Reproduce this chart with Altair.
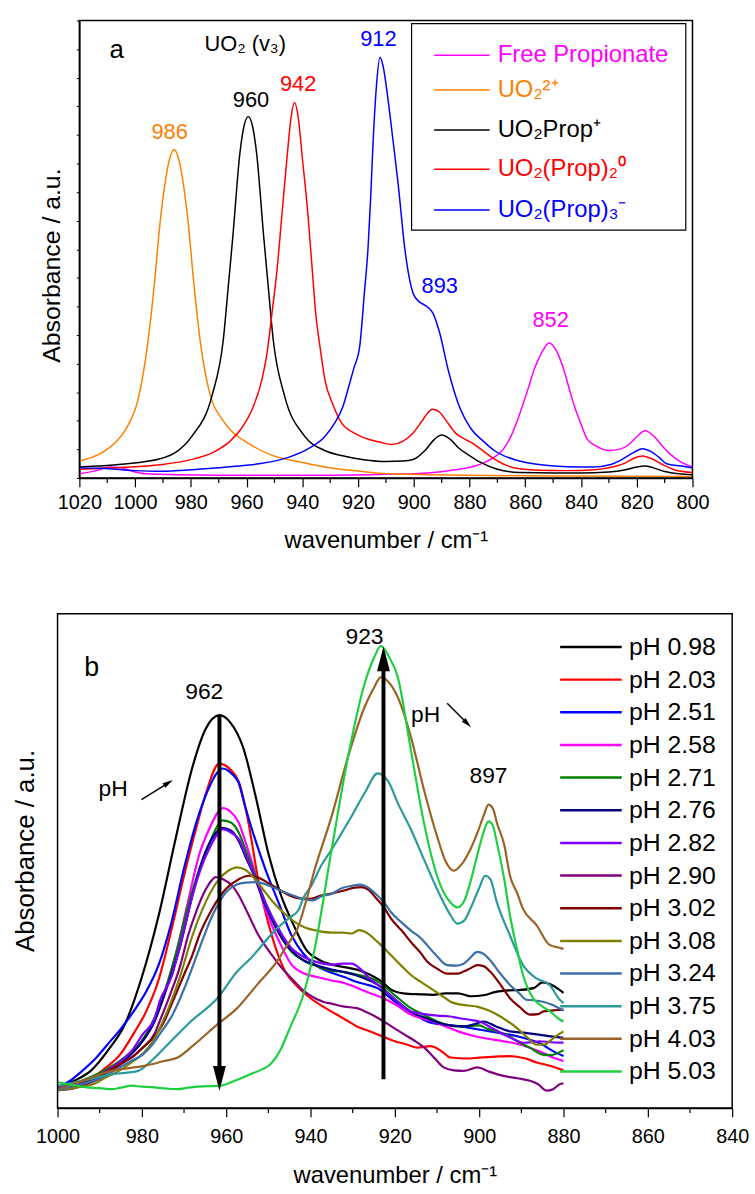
import altair as alt
import pandas as pd
import numpy as np

FONT = "Liberation Sans, Arial, sans-serif"

# ---------------- panel a : reference spectra ----------------
a_series = ["Free Propionate", "UO2 2+", "UO2Prop+", "UO2(Prop)2 0", "UO2(Prop)3 -"]
a_labels = ["Free Propionate", "UO₂²⁺", "UO₂Prop⁺", "UO₂(Prop)₂⁰", "UO₂(Prop)₃⁻"]
a_colors = ["#FF00FF", "#FF8000", "#000000", "#FF0000", "#0000FF"]

free_w = [1020, 1014, 1009, 1005, 1000, 996, 985, 970, 950, 930, 910, 895, 885, 878, 872, 868, 865, 862, 859, 856.8,
          854, 851.5, 849, 846.2, 844, 842, 840, 837.8, 834, 830, 826, 823, 820, 817, 814, 811, 808, 805, 800]
free_v = [0.009, 0.016, 0.024, 0.022, 0.013, 0.009, 0.007, 0.006, 0.006, 0.006, 0.008, 0.011, 0.018, 0.026, 0.042,
          0.062, 0.093, 0.140, 0.195, 0.237, 0.275, 0.295, 0.280, 0.237, 0.190, 0.150, 0.118, 0.085, 0.068, 0.060,
          0.063, 0.072, 0.090, 0.103, 0.092, 0.071, 0.052, 0.038, 0.024]

uo2_w = [1020, 1012, 1007, 1003, 999, 995.6, 993, 991.2, 989, 987.5, 986, 984.5, 983, 980.8, 979, 976.4, 973, 969,
         965, 960, 951, 940, 932, 920, 909, 880, 850, 800]
uo2_v = [0.037, 0.055, 0.078, 0.110, 0.170, 0.288, 0.430, 0.549, 0.655, 0.700, 0.718, 0.700, 0.655, 0.549, 0.430,
         0.288, 0.180, 0.130, 0.100, 0.078, 0.050, 0.034, 0.024, 0.015, 0.009, 0.006, 0.004, 0.003]

prop1_w = [1020, 1005, 991, 979.4, 972.4, 968.4, 966.4, 964.9, 962.4, 960.9, 959.4, 957.9, 956.4, 953.9, 952.4, 950.4,
           946.4, 939.4, 932, 926, 918, 910, 904, 900, 896, 892.5, 890.1, 887, 884, 880, 876, 870, 862, 850, 840, 830,
           824, 820, 817, 814, 810, 805, 800]
prop1_v = [0.024, 0.030, 0.042, 0.093, 0.180, 0.300, 0.430, 0.530, 0.710, 0.770, 0.790, 0.770, 0.710, 0.530, 0.430,
           0.300, 0.180, 0.093, 0.060, 0.049, 0.040, 0.036, 0.037, 0.041, 0.060, 0.085, 0.094, 0.085, 0.066, 0.049,
           0.034, 0.019, 0.012, 0.011, 0.011, 0.013, 0.018, 0.024, 0.026, 0.022, 0.014, 0.009, 0.007]

prop2_w = [1020, 1005, 991, 980, 972, 966, 962, 958, 954.5, 952.5, 950.9, 949, 947.3, 945.5, 944, 942.8, 941.5, 940,
           938, 936.5, 935.2, 933.5, 931.9, 929, 926, 921, 916, 912, 908, 904, 900, 897, 895, 893.4, 891, 888, 885,
           882, 879, 876, 872, 867, 862, 855, 845, 835, 828, 824, 821, 818, 815, 811, 806, 800]
prop2_v = [0.019, 0.023, 0.029, 0.040, 0.056, 0.080, 0.107, 0.150, 0.215, 0.280, 0.360, 0.460, 0.577, 0.700, 0.790,
           0.821, 0.790, 0.700, 0.577, 0.460, 0.360, 0.280, 0.215, 0.160, 0.121, 0.097, 0.084, 0.078, 0.073, 0.080,
           0.100, 0.125, 0.142, 0.150, 0.145, 0.122, 0.098, 0.086, 0.076, 0.063, 0.045, 0.028, 0.020, 0.017, 0.016,
           0.018, 0.025, 0.033, 0.043, 0.048, 0.043, 0.030, 0.017, 0.012]

prop3_w = [1020, 1012, 1000, 991, 975, 965, 955.6, 945, 937.8, 932, 928.3, 925.5, 923.6, 921.5, 919.4, 917.8, 916.4,
           915.5, 914.7, 913.5, 912.1, 911, 909.3, 907.5, 905.6, 903.2, 900.2, 898, 896.1, 893.1, 890.7, 887.7, 884.2,
           879.4, 875, 871.1, 862.8, 849.7, 840, 835.5, 829, 826, 821, 818, 815, 812, 809.3, 804, 800]
prop3_v = [0.022, 0.021, 0.016, 0.0145, 0.020, 0.025, 0.031, 0.045, 0.064, 0.090, 0.121, 0.155, 0.194, 0.240, 0.288,
           0.400, 0.505, 0.610, 0.722, 0.850, 0.920, 0.900, 0.830, 0.740, 0.642, 0.500, 0.403, 0.385, 0.378, 0.360,
           0.317, 0.237, 0.165, 0.107, 0.080, 0.060, 0.038, 0.026, 0.024, 0.024, 0.030, 0.038, 0.056, 0.064, 0.058,
           0.045, 0.031, 0.026, 0.022]

a_curves = [(free_w, free_v), (uo2_w, uo2_v), (prop1_w, prop1_v), (prop2_w, prop2_v), (prop3_w, prop3_v)]

a_ann_text = ["986", "960", "942", "912", "893", "852"]
a_ann_w = [987.6, 958.4, 941.5, 912.7, 890.7, 850.9]
a_ann_v = [0.742, 0.812, 0.846, 0.944, 0.404, 0.330]
a_ann_color = ["#FF8000", "#000000", "#FF0000", "#0000FF", "#0000FF", "#FF00FF"]

# ---------------- panel b : pH series ----------------
ph_labels = ["pH 0.98", "pH 2.03", "pH 2.51", "pH 2.58", "pH 2.71", "pH 2.76", "pH 2.82",
             "pH 2.90", "pH 3.02", "pH 3.08", "pH 3.24", "pH 3.75", "pH 4.03", "pH 5.03"]
ph_colors = ["#000000", "#FF0000", "#0000FF", "#FF00FF", "#008000", "#000080", "#8000FF",
             "#800080", "#800000", "#808000", "#3C6EA8", "#2A9A9A", "#9A6428", "#1ED040"]

ph098_w = [1000, 996, 992, 988, 984, 980, 976, 972, 968, 965, 961.6, 959, 956, 953, 950, 947, 944, 941, 938, 935,
           932, 929, 926, 923, 921, 918, 914, 911, 908, 905, 902, 899, 896, 893, 890, 887, 885, 883, 880]
ph098_v = [0.040, 0.055, 0.076, 0.117, 0.170, 0.265, 0.390, 0.545, 0.690, 0.765, 0.795, 0.780, 0.730, 0.630, 0.515,
           0.430, 0.370, 0.320, 0.300, 0.290, 0.285, 0.280, 0.270, 0.255, 0.240, 0.232, 0.230, 0.229, 0.232, 0.232,
           0.226, 0.228, 0.235, 0.238, 0.239, 0.243, 0.254, 0.250, 0.233]

ph203_w = [1000, 996, 992, 988, 985, 982, 979, 976, 973, 970, 967, 964.5, 961.7, 959, 957, 955, 952.3, 949.2, 946,
           943, 940, 937, 934, 931, 929, 926, 923, 920, 917, 914.7, 911.5, 909, 906.8, 903, 900, 896, 892.7, 889,
           886.4, 883, 880]
ph203_v = [0.038, 0.045, 0.060, 0.085, 0.110, 0.150, 0.195, 0.260, 0.360, 0.470, 0.570, 0.645, 0.697, 0.685, 0.660,
           0.590, 0.457, 0.349, 0.276, 0.245, 0.222, 0.205, 0.190, 0.175, 0.165, 0.155, 0.145, 0.135, 0.128, 0.122,
           0.125, 0.115, 0.102, 0.100, 0.102, 0.104, 0.105, 0.100, 0.092, 0.085, 0.076]

ph251_w = [1000, 997, 994, 991, 988, 985, 982, 979, 976, 973, 970, 967, 964.5, 962, 960.9, 958.5, 957, 955.5, 953.9,
           950.7, 947.6, 944.5, 941.5, 939, 935.5, 932, 929, 926, 924, 921, 917.8, 915, 912.3, 908, 904.5, 901, 897.4,
           894, 891, 888, 885, 882.5, 880]
ph251_v = [0.040, 0.055, 0.076, 0.100, 0.130, 0.160, 0.195, 0.235, 0.290, 0.375, 0.485, 0.580, 0.640, 0.680, 0.687,
           0.675, 0.657, 0.610, 0.564, 0.483, 0.416, 0.349, 0.310, 0.290, 0.275, 0.265, 0.255, 0.248, 0.242, 0.222,
           0.202, 0.188, 0.175, 0.168, 0.165, 0.160, 0.155, 0.150, 0.145, 0.138, 0.128, 0.115, 0.105]

ph258_w = [1000, 996, 992, 988, 984, 981, 978, 975, 972, 969, 966.5, 964, 962, 960.9, 959, 957, 955.5, 953.9, 950.7,
           947.6, 944.5, 941.5, 938.5, 935, 932, 929.5, 927, 923, 920, 916.2, 913, 911, 908, 905, 901, 898, 894.3,
           891, 888, 885, 882.5, 880]
ph258_v = [0.040, 0.046, 0.058, 0.074, 0.100, 0.125, 0.160, 0.225, 0.310, 0.420, 0.510, 0.565, 0.598, 0.607, 0.600,
           0.577, 0.540, 0.497, 0.403, 0.340, 0.290, 0.272, 0.265, 0.258, 0.253, 0.245, 0.236, 0.223, 0.210, 0.189,
           0.180, 0.175, 0.165, 0.155, 0.145, 0.140, 0.135, 0.130, 0.122, 0.112, 0.102, 0.095]

ph271_w = [1000, 996, 992, 988, 984, 981, 978, 975, 972, 969, 966.5, 964, 962, 961, 959, 957, 955.5, 953.9, 950.7,
           947.6, 944.5, 941.5, 938.5, 935, 932, 928, 924, 920, 916.2, 913, 909.9, 905.2, 902, 900, 898, 895.8, 893,
           891, 888, 885, 883, 880]
ph271_v = [0.042, 0.050, 0.063, 0.080, 0.103, 0.125, 0.165, 0.225, 0.310, 0.410, 0.480, 0.535, 0.572, 0.582, 0.578,
           0.557, 0.525, 0.490, 0.416, 0.356, 0.316, 0.298, 0.287, 0.278, 0.275, 0.268, 0.256, 0.228, 0.202, 0.188,
           0.175, 0.165, 0.166, 0.167, 0.160, 0.155, 0.145, 0.135, 0.122, 0.108, 0.107, 0.117]

ph276_w = [1000, 996, 992, 988, 984, 980, 977, 974, 971, 968, 965.5, 963, 961, 959, 957, 955.5, 953.9, 950.7, 947.6,
           944.5, 941.5, 938, 935, 931.9, 928, 924, 920, 916.2, 912, 908.4, 903.7, 901, 899, 896, 892.7, 889, 886.4,
           883, 880]
ph276_v = [0.038, 0.044, 0.055, 0.073, 0.097, 0.133, 0.175, 0.245, 0.325, 0.430, 0.505, 0.550, 0.567, 0.562, 0.540,
           0.510, 0.480, 0.410, 0.355, 0.318, 0.298, 0.287, 0.280, 0.275, 0.265, 0.249, 0.220, 0.195, 0.180, 0.169,
           0.165, 0.170, 0.175, 0.165, 0.155, 0.152, 0.149, 0.145, 0.142]

ph282_w = [1000, 996, 992, 988, 985, 982, 979.8, 977, 975.8, 973, 970, 968, 966, 964, 962, 960.9, 959, 957, 955.5,
           953.9, 950.7, 947.6, 944.5, 941.5, 938, 935, 932.5, 930.3, 928, 926, 924, 920, 916.2, 913, 910, 907, 905,
           902, 900, 897, 894.3, 891.5, 889.6, 887.5, 885.7, 883, 880]
ph282_v = [0.040, 0.048, 0.060, 0.077, 0.095, 0.120, 0.149, 0.180, 0.215, 0.265, 0.360, 0.430, 0.485, 0.525, 0.555,
           0.564, 0.558, 0.544, 0.515, 0.483, 0.416, 0.363, 0.323, 0.305, 0.294, 0.290, 0.292, 0.292, 0.280, 0.262,
           0.249, 0.220, 0.195, 0.190, 0.187, 0.185, 0.182, 0.178, 0.175, 0.162, 0.149, 0.138, 0.132, 0.133, 0.135,
           0.133, 0.132]

ph290_w = [1000, 996, 992, 988, 985, 982, 979.8, 977, 975.8, 973.5, 971, 969, 967, 965, 963.5, 962.5, 960.5, 958.6,
           957, 955.4, 952.3, 949.2, 947, 944.5, 942, 939.8, 937, 935, 932, 929, 926.5, 924, 921, 917.8, 915.5, 913,
           910.5, 908.4, 906, 903.7, 900.5, 897.5, 894.3, 891, 888, 886, 884, 882.5, 880.9, 880]
ph290_v = [0.036, 0.040, 0.052, 0.068, 0.088, 0.105, 0.122, 0.150, 0.175, 0.225, 0.285, 0.350, 0.400, 0.440, 0.460,
           0.467, 0.462, 0.450, 0.430, 0.403, 0.349, 0.310, 0.285, 0.262, 0.240, 0.226, 0.215, 0.211, 0.205, 0.202,
           0.193, 0.182, 0.166, 0.149, 0.137, 0.122, 0.100, 0.082, 0.076, 0.075, 0.082, 0.073, 0.065, 0.060, 0.055,
           0.048, 0.035, 0.038, 0.048, 0.050]

ph302_w = [1000, 997.8, 994, 991.5, 988, 985, 982, 979.8, 977, 975, 972.7, 970, 968, 966.4, 963.3, 960.1, 957, 954.7,
           952, 950, 947.6, 945, 942.5, 940, 937.5, 935, 932, 929.5, 928, 926, 924.5, 922.5, 920.9, 918.5, 916.2, 914,
           912.3, 910, 907.6, 905, 903.7, 902, 900.5, 899, 897.4, 895, 892.7, 890.5, 888, 886, 884.9, 883, 880]
ph302_v = [0.036, 0.041, 0.050, 0.061, 0.075, 0.090, 0.105, 0.122, 0.145, 0.170, 0.215, 0.270, 0.310, 0.349, 0.403,
           0.443, 0.463, 0.470, 0.465, 0.455, 0.443, 0.430, 0.424, 0.423, 0.430, 0.434, 0.440, 0.446, 0.447, 0.440,
           0.425, 0.405, 0.383, 0.360, 0.336, 0.315, 0.296, 0.282, 0.272, 0.272, 0.276, 0.283, 0.289, 0.287, 0.276,
           0.250, 0.222, 0.205, 0.189, 0.190, 0.195, 0.197, 0.199]

ph308_w = [1000, 995, 991, 988.5, 986, 982, 979.5, 977.4, 974.3, 971.1, 968, 964.9, 961.7, 959.5, 957.4, 955.5, 953.9,
           951.5, 949, 946, 943.5, 941, 938, 935, 932.5, 930.3, 928.5, 927, 924.1, 920.9, 918.5, 916.2, 914, 911.5,
           909, 906.8, 903.5, 900.5, 898, 895.8, 893.5, 891.1, 888.5, 886.4, 884.5, 883.3, 881.5, 880]
ph308_v = [0.036, 0.042, 0.050, 0.062, 0.072, 0.095, 0.112, 0.135, 0.189, 0.262, 0.349, 0.416, 0.463, 0.480, 0.487,
           0.482, 0.470, 0.445, 0.418, 0.392, 0.375, 0.364, 0.358, 0.355, 0.355, 0.353, 0.360, 0.356, 0.336, 0.309,
           0.288, 0.269, 0.256, 0.242, 0.228, 0.215, 0.208, 0.205, 0.198, 0.189, 0.177, 0.162, 0.142, 0.128, 0.128,
           0.135, 0.147, 0.155]

ph324_w = [1000, 997.8, 994.5, 991.5, 988, 985.2, 982.5, 979.8, 977.5, 975.8, 972.7, 969.6, 966.4, 963.3, 960.1,
           957.5, 955.4, 953, 950.7, 948.5, 946, 943.5, 941.3, 939.5, 937.5, 935.1, 932.5, 930, 928, 926.5, 924.9,
           922.5, 920.9, 918.5, 916.2, 914, 912.3, 910, 907.6, 905.5, 903.7, 902, 900.5, 899, 897.4, 895, 892.7,
           890.5, 888.8, 887, 884.9, 883, 880]
ph324_v = [0.036, 0.041, 0.048, 0.055, 0.068, 0.082, 0.095, 0.108, 0.128, 0.149, 0.189, 0.249, 0.322, 0.389, 0.436,
           0.452, 0.456, 0.457, 0.453, 0.445, 0.436, 0.428, 0.422, 0.420, 0.428, 0.433, 0.445, 0.450, 0.452, 0.447,
           0.436, 0.415, 0.396, 0.376, 0.359, 0.345, 0.329, 0.307, 0.289, 0.288, 0.292, 0.305, 0.316, 0.312, 0.299,
           0.272, 0.249, 0.232, 0.219, 0.218, 0.215, 0.210, 0.197]

ph375_w = [1000, 994, 987.2, 980.9, 977.8, 973.1, 968.4, 962.1, 957.4, 954.3, 948, 945, 942.9, 941.7, 939.8, 937.5,
           935, 932.5, 930.3, 927, 924.1, 921.5, 919.3, 916.2, 913.1, 910, 906.8, 905.2, 903.5, 902.1, 900, 898.6,
           897.3, 895.8, 892.7, 889.6, 886.4, 883.3, 880.9, 880]
ph375_v = [0.045, 0.055, 0.068, 0.075, 0.095, 0.135, 0.175, 0.222, 0.276, 0.302, 0.363, 0.385, 0.400, 0.425, 0.450,
           0.490, 0.523, 0.558, 0.590, 0.640, 0.677, 0.660, 0.617, 0.564, 0.503, 0.443, 0.390, 0.373, 0.380, 0.403,
           0.445, 0.470, 0.462, 0.416, 0.349, 0.289, 0.262, 0.249, 0.219, 0.212]

ph403_w = [1000, 994, 987.2, 979.4, 974.7, 971.5, 967.6, 962.1, 957.4, 952.7, 948, 945.5, 943, 941, 939, 935, 931.1,
           927.2, 925, 923.3, 921.5, 919.3, 916.2, 913.1, 910, 908, 906, 904, 902.1, 900.5, 899, 897.8, 896.7, 895.8,
           894, 892.7, 891, 889.6, 886.4, 883.3, 880.9, 880]
ph403_v = [0.038, 0.055, 0.075, 0.085, 0.095, 0.102, 0.128, 0.169, 0.202, 0.249, 0.296, 0.330, 0.365, 0.420, 0.483,
           0.590, 0.711, 0.811, 0.850, 0.872, 0.862, 0.831, 0.751, 0.644, 0.550, 0.500, 0.480, 0.495, 0.523, 0.555,
           0.590, 0.614, 0.605, 0.577, 0.530, 0.470, 0.435, 0.403, 0.370, 0.330, 0.324, 0.322]

ph503_w = [1000, 996, 993.5, 990, 987.2, 985, 982.5, 980, 977.8, 974, 971.5, 969, 966.8, 961.3, 958, 954.3, 951.5,
           949.6, 947, 944.9, 941.7, 939, 935, 931.1, 927.2, 925, 923.3, 921.5, 919.3, 916.2, 913.1, 910, 908, 906.8,
           905.2, 903.5, 902.1, 900.5, 899, 897.8, 896.8, 895.8, 894, 892.7, 891, 889.6, 887.2, 885, 883.3, 880.9, 880]
ph503_v = [0.052, 0.046, 0.042, 0.040, 0.038, 0.041, 0.045, 0.043, 0.042, 0.039, 0.038, 0.041, 0.043, 0.045, 0.055,
           0.068, 0.078, 0.088, 0.120, 0.162, 0.229, 0.323, 0.523, 0.711, 0.858, 0.910, 0.935, 0.915, 0.872, 0.724,
           0.577, 0.470, 0.430, 0.416, 0.406, 0.420, 0.457, 0.510, 0.557, 0.580, 0.572, 0.537, 0.460, 0.390, 0.320,
           0.269, 0.222, 0.205, 0.196, 0.179, 0.175]

b_curves = [(ph098_w, ph098_v), (ph203_w, ph203_v), (ph251_w, ph251_v), (ph258_w, ph258_v), (ph271_w, ph271_v),
            (ph276_w, ph276_v), (ph282_w, ph282_v), (ph290_w, ph290_v), (ph302_w, ph302_v), (ph308_w, ph308_v),
            (ph324_w, ph324_v), (ph375_w, ph375_v), (ph403_w, ph403_v), (ph503_w, ph503_v)]

b_ann_text = ["962", "923", "897", "pH", "pH"]
b_ann_w = [965.2, 927.2, 897.8, 986.8, 912.7]
b_ann_v = [0.828, 0.938, 0.657, 0.631, 0.781]

# ---------------- build tables ----------------
df_a = pd.concat([pd.DataFrame({"w": w, "v": v, "series": s}) for s, (w, v) in zip(a_series, a_curves)],
                 ignore_index=True)
df_b = pd.concat([pd.DataFrame({"w": w, "v": v, "series": s}) for s, (w, v) in zip(ph_labels, b_curves)],
                 ignore_index=True)

scale_ca = alt.Scale(domain=a_series, range=a_colors)
scale_cb = alt.Scale(domain=ph_labels, range=ph_colors)

# panel a plot area: 618 x 461 ; panel b shares the same origin but starts 22 px further left
xa = alt.Scale(domain=[800, 1020], reverse=True, nice=False, zero=False)
ya = alt.Scale(domain=[0, 1], nice=False, zero=False)
xb = alt.Scale(domain=[840, 1000], range=[658, -22], nice=False, zero=False)
yb = alt.Scale(domain=[0, 1], nice=False, zero=False)

XTITLE = "wavenumber / cm⁻¹"
YTITLE = "Absorbance / a.u."


def x_axis(lo, hi, label_pad, title_pad):
    return alt.Axis(values=list(range(lo, hi + 1, 20)), title=XTITLE, format="d",
                    tickSize=9, labelFont=FONT, labelFontSize=20, labelColor="black", labelPadding=label_pad,
                    labelFlush=False, labelOverlap=False,
                    titleFont=FONT, titleFontSize=24, titleFontWeight="normal", titleColor="black",
                    titlePadding=title_pad, tickColor="black", tickWidth=1.2,
                    domainColor="black", domainWidth=1.5, grid=False)


y_axis_a = alt.Axis(labels=False, title=None, minExtent=0, domainColor="black", domainWidth=1.5,
                    grid=False, values=[i / 16 for i in range(17)], ticks=True, tickSize=3, tickColor="black")


def X(field, sc):
    return alt.X(field, scale=sc, axis=None)


def Y(field, sc):
    return alt.Y(field, scale=sc, axis=None)


def minor_ticks(lo, hi, sc, h):
    vals = pd.DataFrame({"w": list(range(lo + 10, hi, 20))})
    return alt.Chart(vals).mark_rule(color="black", strokeWidth=1.2).encode(
        x=X("w:Q", sc), y=alt.value(h), y2=alt.value(h + 5))


def frame(lo, hi, sc_x, sc_y):
    return alt.Chart(pd.DataFrame({"x1": [hi], "x2": [lo], "y1": [0.0], "y2": [1.0]})).mark_rect(
        fillOpacity=0, stroke="black", strokeWidth=1.5).encode(
        x=X("x1:Q", sc_x), x2="x2:Q", y=Y("y1:Q", sc_y), y2="y2:Q")


def y_title(px, py, size):
    return alt.Chart(pd.DataFrame({"t": [YTITLE]})).mark_text(
        angle=270, align="center", baseline="middle", font=FONT, fontSize=size, color="black").encode(
        text="t:N", x=alt.value(px), y=alt.value(py))


# ---------------- panel a layers ----------------
lines_a = alt.Chart(df_a).mark_line(strokeWidth=1.5, interpolate="monotone").encode(
    x=alt.X("w:Q", scale=xa, axis=x_axis(800, 1020, 6, 16)),
    y=alt.Y("v:Q", scale=ya, axis=y_axis_a),
    color=alt.Color("series:N", scale=scale_ca, legend=None),
)

box_a = alt.Chart(pd.DataFrame({"x1": [900.8], "x2": [802.4], "y1": [0.9935], "y2": [0.542]})).mark_rect(
    fill="white", stroke="black", strokeWidth=1.2).encode(
    x=X("x1:Q", xa), x2="x2:Q", y=Y("y1:Q", ya), y2="y2:Q")

leg_a = pd.DataFrame({"series": a_series, "label": a_labels,
                      "x1": 892.7, "x2": 872.8, "xt": 869.9,
                      "y": [0.924, 0.848, 0.761, 0.675, 0.586]})
leg_rules_a = alt.Chart(leg_a).mark_rule(strokeWidth=1.5).encode(
    x=X("x1:Q", xa), x2="x2:Q", y=Y("y:Q", ya),
    color=alt.Color("series:N", scale=scale_ca, legend=None))
leg_text_a = alt.Chart(leg_a).mark_text(align="left", baseline="middle", font=FONT, fontSize=24).encode(
    x=X("xt:Q", xa), y=Y("y:Q", ya), text="label:N",
    color=alt.Color("series:N", scale=scale_ca, legend=None))

ann_a = alt.Chart(pd.DataFrame({"t": a_ann_text, "w": a_ann_w, "v": a_ann_v, "c": a_ann_color})).mark_text(
    align="center", baseline="alphabetic", font=FONT, fontSize=22).encode(
    x=X("w:Q", xa), y=Y("v:Q", ya), text="t:N", color=alt.Color("c:N", scale=None))

tag_a = alt.Chart(pd.DataFrame({"t": ["a", "UO₂ (v₃)"], "w": [1006.6, 960.5], "v": [0.919, 0.933],
                                "s": [26, 22]})).mark_text(
    align="center", baseline="alphabetic", font=FONT, color="black").encode(
    x=X("w:Q", xa), y=Y("v:Q", ya), text="t:N", size=alt.Size("s:Q", scale=None))

# invisible guide fixing panel a's outer bounds (left, top and bottom)
edge_a = alt.Chart(pd.DataFrame({"k": [0]})).mark_rule(opacity=0, strokeWidth=1).encode(
    x=alt.value(-79), y=alt.value(-15), y2=alt.value(545))

panel_a = alt.layer(lines_a, minor_ticks(800, 1020, xa, 461), box_a, leg_rules_a, leg_text_a, ann_a, tag_a,
                    frame(800, 1020, xa, ya), y_title(-28, 247, 25), edge_a).resolve_axis(
    x="independent", y="independent").properties(width=618, height=461)

# ---------------- panel b layers ----------------
lines_b = alt.Chart(df_b).mark_line(strokeWidth=2.2, interpolate="monotone").encode(
    x=alt.X("w:Q", scale=xb, axis=x_axis(840, 1000, 10, 17)),
    y=alt.Y("v:Q", scale=yb, axis=None),
    color=alt.Color("series:N", scale=scale_cb, legend=None),
)

big_arrows = alt.Chart(pd.DataFrame({"w": [961.6, 922.7], "v1": [0.795, 0.058], "v2": [0.085, 0.885]})).mark_rule(
    strokeWidth=4, color="black").encode(x=X("w:Q", xb), y=Y("v1:Q", yb), y2="v2:Q")

small_arrows = alt.Chart(pd.DataFrame({"w1": [980.1, 907.6], "v1": [0.624, 0.819],
                                       "w2": [973.7, 902.8], "v2": [0.658, 0.778]})).mark_rule(
    strokeWidth=1.5, color="black").encode(x=X("w1:Q", xb), x2="w2:Q", y=Y("v1:Q", yb), y2="v2:Q")

heads = alt.Chart(pd.DataFrame({"w": [961.6, 922.7, 973.7, 902.8], "v": [0.060, 0.909, 0.658, 0.778],
                                "ang": [180, 0, 58.6, 135], "s": [625, 625, 110, 110]})).mark_point(
    shape="M0,-1L0.52,1L-0.52,1Z", filled=True, color="black", opacity=1, strokeWidth=0).encode(
    x=X("w:Q", xb), y=Y("v:Q", yb), angle=alt.Angle("ang:Q", scale=None), size=alt.Size("s:Q", scale=None))

rows = np.arange(len(ph_labels))
leg_b = pd.DataFrame({"series": ph_labels, "x1": 880.8, "x2": 866.2, "xt": 864.5, "y": 0.933 - 0.0661 * rows})
leg_rules_b = alt.Chart(leg_b).mark_rule(strokeWidth=2.5).encode(
    x=X("x1:Q", xb), x2="x2:Q", y=Y("y:Q", yb),
    color=alt.Color("series:N", scale=scale_cb, legend=None))
leg_text_b = alt.Chart(leg_b).mark_text(align="left", baseline="middle", font=FONT, fontSize=25,
                                        color="black").encode(
    x=X("xt:Q", xb), y=Y("y:Q", yb), text="series:N")

ann_b = alt.Chart(pd.DataFrame({"t": b_ann_text, "w": b_ann_w, "v": b_ann_v})).mark_text(
    align="center", baseline="alphabetic", font=FONT, fontSize=23, color="black").encode(
    x=X("w:Q", xb), y=Y("v:Q", yb), text="t:N")

tag_b = alt.Chart(pd.DataFrame({"t": ["b"], "w": [991.9], "v": [0.875]})).mark_text(
    align="center", baseline="alphabetic", font=FONT, fontSize=27, color="black").encode(
    x=X("w:Q", xb), y=Y("v:Q", yb), text="t:N")

edge_b = alt.Chart(pd.DataFrame({"k": [0]})).mark_rule(opacity=0, strokeWidth=1).encode(
    x=alt.value(-70), y=alt.value(-51), y2=alt.value(300))

panel_b = alt.layer(lines_b, minor_ticks(840, 1000, xb, 498), big_arrows, small_arrows, heads, leg_rules_b,
                    leg_text_b, ann_b, tag_b, frame(840, 1000, xb, yb), y_title(-54, 239, 26),
                    edge_b).resolve_axis(x="independent", y="independent").properties(width=658, height=498)

chart = alt.vconcat(panel_a, panel_b, spacing=0).resolve_scale(color="independent").properties(
    padding={"left": 0, "top": 0, "right": 0, "bottom": 0},
    background="white",
).configure_view(stroke="transparent")

chart.save("out.html", embed_options={"renderer": "svg", "actions": False})
